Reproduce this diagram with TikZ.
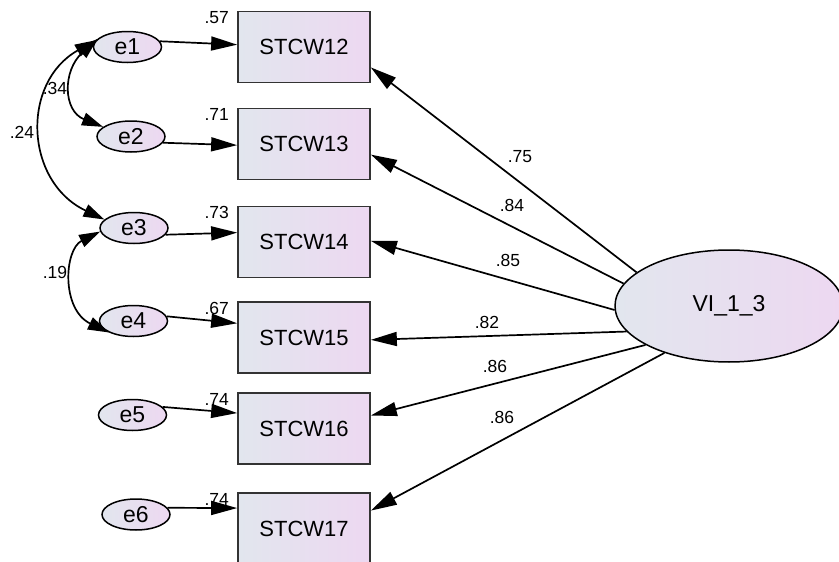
\documentclass[tikz,border=0pt]{standalone}
\usepackage{fontspec}
\setmainfont{Liberation Sans}
\usetikzlibrary{arrows.meta,calc,shapes.geometric}
\definecolor{fillL}{HTML}{E2E6EE}
\definecolor{fillR}{HTML}{EDD8F1}
\begin{document}
\begin{tikzpicture}[x=1pt,y=-1pt,
 obs/.style={rectangle, draw=black!80, line width=1.7pt, left color=fillL, right color=fillR, minimum width=132pt, minimum height=71pt, inner sep=0pt, font=\fontsize{22}{26}\selectfont},
 err/.style={ellipse, draw=black, line width=1.5pt, left color=fillL, right color=fillR, minimum width=68pt, minimum height=31pt, inner sep=0pt, font=\fontsize{23}{27}\selectfont},
 lat/.style={ellipse, draw=black, line width=1.5pt, left color=fillL, right color=fillR, minimum width=228pt, minimum height=112pt, inner sep=0pt, font=\fontsize{23}{27}\selectfont},
 lbl/.style={font=\fontsize{17.5}{20}\selectfont, inner sep=0pt},
 arr/.style={line width=1.7pt, -{Triangle[length=26pt,width=14pt]}},
 cov/.style={line width=1.7pt, {Triangle[length=21pt,width=13pt]}-{Triangle[length=21pt,width=13pt]}},
]
\useasboundingbox (0,0) rectangle (839,562);
% observed variables
\node[obs] (s12) at (304,47) {STCW12};
\node[obs] (s13) at (304,144) {STCW13};
\node[obs] (s14) at (304,242) {STCW14};
\node[obs] (s15) at (304,337.5) {STCW15};
\node[obs] (s16) at (304,428.5) {STCW16};
\node[obs] (s17) at (304,528.5) {STCW17};
% latent
\node[lat] (vi) at (729,306) {VI\_1\_3};
% errors
\node[err] (e1) at (127.5,47) {e1};
\node[err] (e2) at (131,136.5) {e2};
\node[err] (e3) at (134,228) {e3};
\node[err] (e4) at (133.5,321) {e4};
\node[err] (e5) at (132.5,415) {e5};
\node[err] (e6) at (136,514.5) {e6};
% error paths
\draw[arr] (e1.10) -- (s12.178);
\draw[arr] (e2.-11) -- (s13.181);
\draw[arr] (e3.-12) -- (s14.172);
\draw[arr] (e4.8) -- (s15.168);
\draw[arr] (e5.15) -- (s16.167);
\draw[arr] (e6.12) -- (s17.163);
% loadings
\draw[arr] (vi.160.7) -- (s12.-17);
\draw[arr] (vi.168.9) -- (s13.-9.5);
\draw[arr] (vi.182) -- (s14.1.7);
\draw[arr] (vi.194.8) -- (s15.-2);
\draw[arr] (vi.205.5) -- (s16.11.6);
\draw[arr] (vi.216.3) -- (s17.15.7);
% covariances
\draw[cov] (e1.165) .. controls +(-35,32) and +(-40,-16) .. (e2.161);
\draw[cov] (e1.168) .. controls +(-75,42) and +(-80,-38) .. (e3.164);
\draw[cov] (e3.186) .. controls +(-36,18) and +(-48,-23) .. (e4.205);
% covariance labels
\node[lbl] (c34) at (55,88) {.34};
\node[lbl] (c24) at (22,132) {.24};
\node[lbl] (c19) at (55,272) {.19};
% loading labels
\node[lbl] (l12) at (520,157) {.75};
\node[lbl] (l13) at (512,205) {.84};
\node[lbl] (l14) at (508,260) {.85};
\node[lbl] (l15) at (487,322) {.82};
\node[lbl] (l16) at (495,366) {.86};
\node[lbl] (l17) at (502,417) {.86};
% squared multiple correlations
\node[lbl, anchor=east] (r12) at ($(s12.north west)+(-8,7)$) {.57};
\node[lbl, anchor=east] (r13) at ($(s13.north west)+(-8,7)$) {.71};
\node[lbl, anchor=east] (r14) at ($(s14.north west)+(-8,7)$) {.73};
\node[lbl, anchor=east] (r15) at ($(s15.north west)+(-8,7)$) {.67};
\node[lbl, anchor=east] (r16) at ($(s16.north west)+(-8,7)$) {.74};
\node[lbl, anchor=east] (r17) at ($(s17.north west)+(-8,7)$) {.74};
\end{tikzpicture}
\end{document}
